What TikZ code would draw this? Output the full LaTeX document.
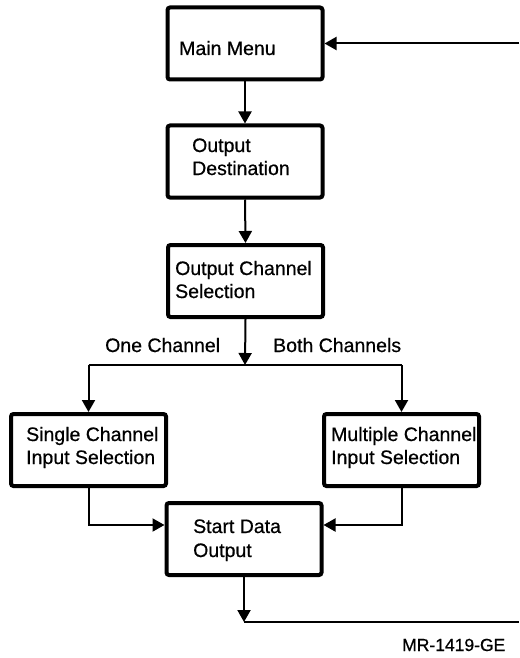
\documentclass[tikz,border=0pt]{standalone}
\usepackage{fontspec}
\setmainfont{Liberation Sans}[FakeBold=0.6]
\usetikzlibrary{arrows.meta,calc}
\begin{document}
\begin{tikzpicture}[x=1pt,y=-1pt,
  box/.style={draw,line width=4pt,rounded corners=2.5pt,minimum width=155pt,minimum height=72pt,inner sep=0pt},
  txt/.style={anchor=base west,inner sep=0pt,font=\fontsize{19.5}{23}\selectfont},
  conn/.style={line width=2pt},
  arr/.style={conn,-{Triangle[width=13pt,length=12pt]}},
]
\useasboundingbox (0,0) rectangle (519,658);
% boxes
\node[box] (mm) at (245,43.5) {};
\node[box] (od) at (245,161.5) {};
\node[box] (ocs) at (245.5,281) {};
\node[box] (single) at (88.5,450) {};
\node[box] (multi) at (401.5,450) {};
\node[box] (start) at (244,539) {};
% texts
\node[txt] (tmm) at (179,55) {Main Menu};
\node[txt] (tod1) at (192,152) {Output};
\node[txt] (tod2) at (192,175) {Destination};
\node[txt] (tocs1) at (175,275) {Output Channel};
\node[txt] (tocs2) at (175,298) {Selection};
\node[txt] (ts1) at (26,441) {Single Channel};
\node[txt] (ts2) at (26,464) {Input Selection};
\node[txt] (tm1) at (331,441) {Multiple Channel};
\node[txt] (tm2) at (331,464) {Input Selection};
\node[txt] (tst1) at (193,533) {Start Data};
\node[txt] (tst2) at (193,557) {Output};
\node[txt] (one) at (105,352) {One Channel};
\node[txt] (both) at (273,352) {Both Channels};
\node[anchor=base west,inner sep=0pt,font=\fontsize{17.5}{20}\selectfont] (mr) at (402,651) {MR-1419-GE};
% coordinates
\coordinate (split) at (245,365);
\coordinate (sl) at (88.5,365);
\coordinate (sr) at (401.5,365);
\coordinate (join) at (0,525);
\coordinate (bl) at (244,622);
\coordinate (br) at (519,622);
\coordinate (tr) at (519,43.5);
% connectors
\draw[arr] (mm.south) -- (od.north);
\draw[arr] (od.south) -- (ocs.north);
\draw[arr] (ocs.south) -- (split);
\draw[conn] (sl) -- (sr);
\draw[arr] (sl) -- (single.north);
\draw[arr] (sr) -- (multi.north);
\draw[arr] (single.south) |- (start.west |- join);
\draw[arr] (multi.south) |- (start.east |- join);
\draw[arr] (start.south) -- (bl);
\draw[conn] (bl) -- (br);
\draw[arr] (tr) -- (mm.east);
\end{tikzpicture}
\end{document}
